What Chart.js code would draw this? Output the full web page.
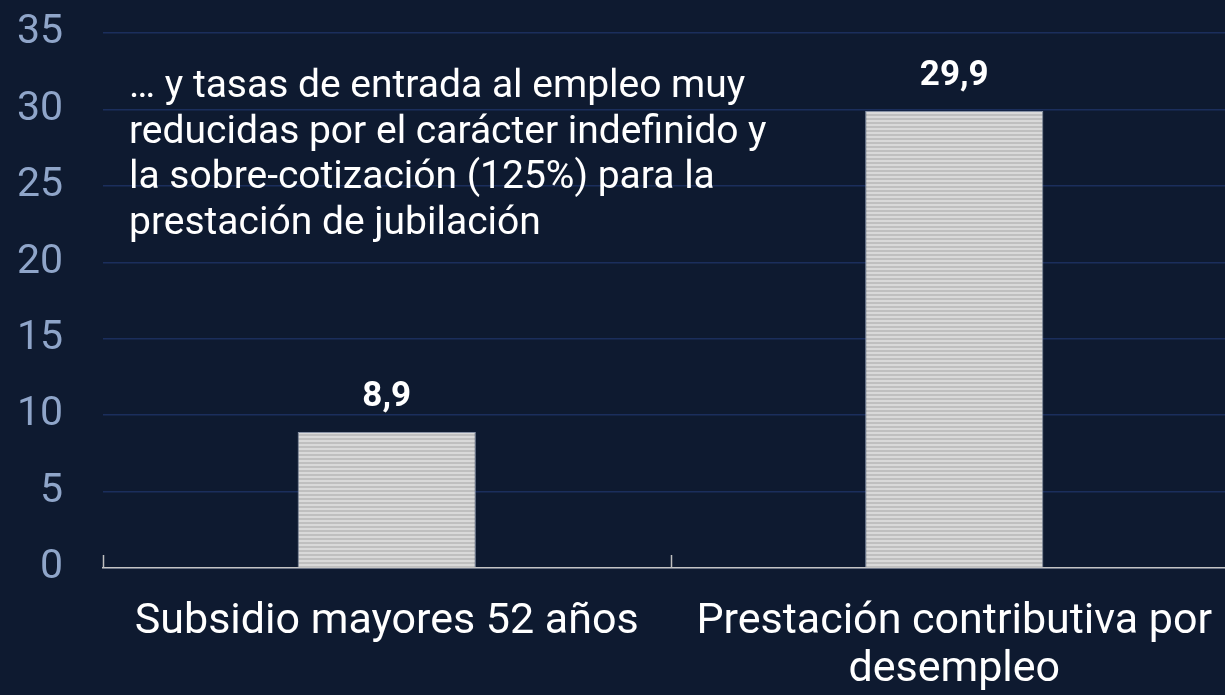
<!DOCTYPE html>
<html>
<head>
<meta charset="utf-8">
<script src="https://cdn.jsdelivr.net/npm/chart.js@4"></script>
<style>
  html, body { margin: 0; padding: 0; background: #0e1a30; overflow: hidden; }
  #wrap { position: relative; width: 1238px; height: 695px; }
</style>
</head>
<body>
<div id="wrap"><canvas id="c"></canvas></div>
<script>
const categories = [["Subsidio mayores 52 años"], ["Prestación contributiva por", "desempleo"]];
const values = [8.9, 29.9];
const valueLabels = ["8,9", "29,9"];
const yTicks = [0, 5, 10, 15, 20, 25, 30, 35];
const noteLines = [
  "… y tasas de entrada al empleo muy",
  "reducidas por el carácter indefinido y",
  "la sobre-cotización (125%) para la",
  "prestación de jubilación"
];

const FONT = "Roboto, 'Noto Sans', sans-serif";

function stripePattern() {
  const pc = document.createElement('canvas');
  pc.width = 4; pc.height = 4;
  const g = pc.getContext('2d');
  g.fillStyle = '#d9d9d9'; g.fillRect(0, 0, 4, 2);
  g.fillStyle = '#bfbfbf'; g.fillRect(0, 2, 4, 2);
  return g.createPattern(pc, 'repeat');
}

const decorPlugin = {
  id: 'decor',
  afterDraw(chart) {
    const ctx = chart.ctx;
    const xs = chart.scales.x;
    const area = chart.chartArea;
    ctx.save();
    // inward tick marks at category boundaries
    ctx.strokeStyle = '#bfbfbf';
    ctx.lineWidth = 1.5;
    const n = xs.ticks.length;
    for (let i = 0; i < n; i++) {
      const px = i === 0 ? area.left : (xs.getPixelForTick(i - 1) + xs.getPixelForTick(i)) / 2;
      ctx.beginPath();
      ctx.moveTo(Math.round(px) + 0.5, area.bottom);
      ctx.lineTo(Math.round(px) + 0.5, area.bottom - 13);
      ctx.stroke();
    }
    // value labels
    const meta = chart.getDatasetMeta(0);
    ctx.fillStyle = '#ffffff';
    ctx.font = "bold 35px " + FONT;
    ctx.textAlign = 'center';
    ctx.textBaseline = 'alphabetic';
    meta.data.forEach((bar, i) => {
      ctx.fillText(valueLabels[i], bar.x, bar.y - 26);
    });
    // annotation text
    ctx.font = "39px " + FONT;
    ctx.textAlign = 'left';
    noteLines.forEach((t, i) => {
      ctx.fillText(t, area.left + 26, 97 + i * 45.5);
    });
    ctx.restore();
  }
};

new Chart(document.getElementById('c'), {
  type: 'bar',
  data: {
    labels: categories,
    datasets: [{
      data: values,
      backgroundColor: stripePattern(),
      borderColor: 'rgba(150,160,178,0.9)',
      borderWidth: 1,
      borderSkipped: 'bottom',
      barPercentage: 0.314,
      categoryPercentage: 1
    }]
  },
  options: {
    responsive: true,
    maintainAspectRatio: false,
    animation: false,
    layout: { padding: { left: 14, right: 0, top: 33, bottom: 0 } },
    plugins: { legend: { display: false }, tooltip: { enabled: false } },
    scales: {
      x: {
        grid: { display: false, drawTicks: false },
        border: { display: true, color: '#c4c4c4', width: 1.5 },
        ticks: {
          color: '#ffffff',
          font: { family: FONT, size: 43, lineHeight: 1.12 },
          padding: 30,
          maxRotation: 0,
          autoSkip: false
        },
        afterFit(s) { s.height = 127; s.paddingLeft = 0; s.paddingRight = 0; }
      },
      y: {
        min: 0, max: 35,
        afterBuildTicks(scale) { scale.ticks = yTicks.map(v => ({ value: v })); },
        grid: { color: '#1b2e5c', lineWidth: 1.5, drawTicks: false },
        border: { display: false },
        ticks: {
          color: '#8fa5c9',
          font: { family: FONT, size: 41 },
          padding: 40
        },
        afterFit(s) { s.width = 89; s.paddingTop = 0; s.paddingBottom = 0; }
      }
    }
  },
  plugins: [decorPlugin]
});
</script>
</body>
</html>
